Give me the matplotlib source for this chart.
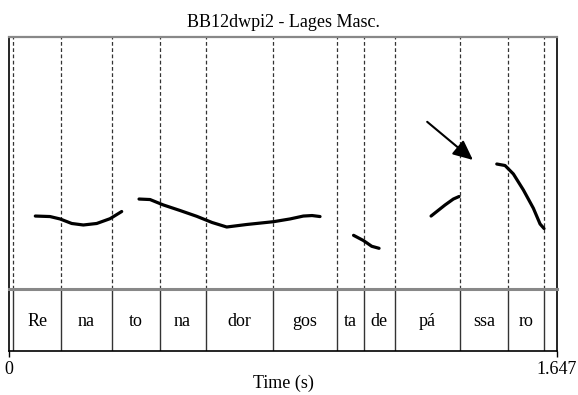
import matplotlib
matplotlib.use("Agg")
from matplotlib import pyplot as plt

plt.rcParams['font.family'] = ['Liberation Serif', 'DejaVu Serif']

title = 'BB12dwpi2 - Lages Masc.'
total_dur = 1.647

# syllable boundaries (s) and labels of the tier
bounds = [0.0126, 0.1555, 0.3089, 0.4517, 0.5901, 0.7925, 0.9841,
          1.0659, 1.1588, 1.3561, 1.4999, 1.6081]
syllables = ['Re', 'na', 'to', 'na', 'dor', 'gos', 'ta', 'de', 'pá', 'ssa', 'ro']

# pitch contour pieces (time s, F0 Hz)
seg1_t = [0.0782, 0.1224, 0.1525, 0.1877, 0.2226, 0.2629, 0.3029, 0.3380]
seg1_f = [107.9, 107.5, 105.6, 102.0, 100.8, 102.0, 105.8, 111.5]
seg2_t = [0.3901, 0.4232, 0.4632, 0.5134, 0.5636, 0.6096, 0.6538, 0.7140,
          0.7940, 0.8442, 0.8842, 0.9104, 0.9344]
seg2_f = [121.4, 121.0, 116.7, 112.3, 107.7, 102.8, 99.2, 101.2,
          103.4, 105.6, 107.9, 108.3, 107.5]
seg3_t = [1.0352, 1.0647, 1.0899, 1.1119]
seg3_f = [92.6, 88.5, 83.9, 82.3]
seg4_t = [1.2683, 1.3104, 1.3353, 1.3525]
seg4_f = [107.9, 116.7, 121.4, 123.4]
seg5_t = [1.4659, 1.4908, 1.5158, 1.5459, 1.5759, 1.5961, 1.6081]
seg5_f = [149.2, 148.0, 141.3, 128.6, 114.1, 101.6, 98.0]

f_min, f_max = 50, 250

fig = plt.figure(figsize=(5.78, 3.95), dpi=100)
left, width = 9.3 / 578, (557 - 9.3) / 578
ax = fig.add_axes([left, 106 / 395, width, 252 / 395])
tier = fig.add_axes([left, 44 / 395, width, 62 / 395])

for b in bounds:
    ax.axvline(b, color='#333333', lw=0.9, ls=(0, (3, 2)))
for t, f in [(seg1_t, seg1_f), (seg2_t, seg2_f), (seg3_t, seg3_f),
             (seg4_t, seg4_f), (seg5_t, seg5_f)]:
    ax.plot(t, f, color='black', lw=2.3, solid_capstyle='round')

ax.annotate('', xy=(1.4006, 151.0), xytext=(1.2502, 184.1),
            arrowprops=dict(arrowstyle='-|>,head_length=1.2,head_width=0.55',
                            color='black', lw=1.5))

ax.set_xlim(0, total_dur)
ax.set_ylim(f_min, f_max)
ax.set_xticks([])
ax.set_yticks([])
ax.spines['top'].set_color('#888888')
ax.spines['top'].set_linewidth(1.6)
ax.spines['bottom'].set_visible(False)
for s in ['left', 'right']:
    ax.spines[s].set_color('black')
    ax.spines[s].set_linewidth(1.2)
ax.set_title(title, fontsize=13, pad=7)

for b in bounds:
    tier.axvline(b, color='#333333', lw=1.0)
for i, lab in enumerate(syllables):
    tier.text((bounds[i] + bounds[i + 1]) / 2, 0.47, lab, ha='center',
              va='center', fontsize=13, transform=tier.get_xaxis_transform())
tier.set_xlim(0, total_dur)
tier.set_ylim(0, 1)
tier.set_yticks([])
tier.set_xticks([0, total_dur])
tier.set_xticklabels(['0', '1.647'], fontsize=13)
tier.tick_params(axis='x', length=4, width=1, pad=3)
tier.spines['top'].set_color('#888888')
tier.spines['top'].set_linewidth(2.2)
for s in ['left', 'right', 'bottom']:
    tier.spines[s].set_color('black')
    tier.spines[s].set_linewidth(1.2)
tier.set_xlabel('Time (s)', fontsize=13, labelpad=-2)

fig.savefig('out.png', dpi=100)
